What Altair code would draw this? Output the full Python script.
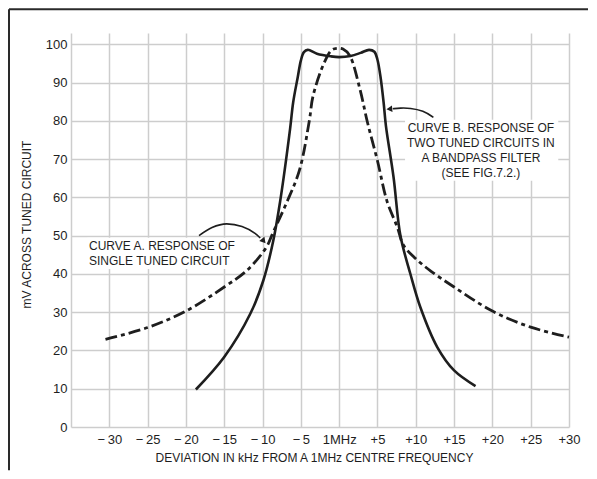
import altair as alt
import pandas as pd

# ---- data ----
# Curve A: single tuned circuit (dash-dot)
a_x = [-30.5, -25, -20, -15, -12, -9.5, -8.6, -7, -5.2, -3.9, -3.4, -2, -1, -0.3,
       0.5, 1.4, 2.7, 3.7, 5, 6.25, 7.6, 8.4, 10, 12, 15, 20, 25, 30]
a_y = [22.9, 26, 30.3, 36.6, 41, 47, 51, 58, 67, 80, 86.6, 95, 98.5, 99,
       98.8, 97, 88.4, 79.6, 69.6, 59, 52.2, 47.5, 44, 40.7, 36.6, 30.3, 26.1, 23.5]

# Curve B: two tuned circuits in a bandpass filter (solid)
b_x = [-18.7, -15, -11.6, -9.9, -8.6, -7.7, -6.4, -6, -5.4, -5.0, -4.6, -4.1, -2.9, -1.1, 0,
       1.5, 2.8, 3.9, 4.6, 5.0, 5.4, 5.8, 6.1, 7.1, 8, 9.3, 10.6, 12.8, 15, 17.8]
b_y = [9.8, 18.3, 29.6, 38.3, 48.7, 59, 78, 84.9, 91.5, 95.8, 98.0, 98.6, 97.6, 96.9, 96.7,
       97.0, 97.8, 98.6, 98.1, 96.0, 91.5, 84.9, 78.8, 65.3, 50, 40, 31.3, 20.9, 14.8, 10.7]

x_ticks = [-35, -30, -25, -20, -15, -10, -5, 0, 5, 10, 15, 20, 25, 30]
y_ticks = [0, 10, 20, 30, 40, 50, 60, 70, 80, 90, 100]

x_title = "DEVIATION IN kHz FROM A 1MHz CENTRE FREQUENCY"
y_title = "mV ACROSS TUNED CIRCUIT"

# annotations
text_a = ["CURVE A. RESPONSE OF", "SINGLE TUNED CIRCUIT"]
text_a_x = [-32.65, -32.65]
text_a_y = [47.3, 43.5]

text_b = ["CURVE B. RESPONSE OF", "TWO TUNED CIRCUITS IN", "A BANDPASS FILTER", "(SEE FIG.7.2.)"]
text_b_x = [18.5, 18.5, 18.5, 18.5]
text_b_y = [78.2, 74.3, 70.4, 66.5]

# white boxes behind annotation text
box_x1 = [-32.9, 8.6]
box_x2 = [-12.9, 28.6]
box_y1 = [41.3, 64.4]
box_y2 = [49.5, 80.3]

# arrow arcs
arrow_a_x = [-18.29, -16.59, -14.67, -12.68, -10.98, -10.3]
arrow_a_y = [50.05, 52.14, 53.1, 52.4, 50.6, 49.4]
arrow_b_x = [12.3, 10.99, 9.26, 7.95, 7.0]
arrow_b_y = [80.94, 82.69, 83.39, 83.39, 83.2]
head_x = [-9.85, 6.55]
head_y = [48.6, 83.13]
head_angle = [140, 265]

# ---- chart ----
INK = "#1e1e1e"
FONT = "Liberation Sans"

xscale = alt.Scale(domain=[-35, 30], nice=False, zero=False)
yscale = alt.Scale(domain=[0, 103], nice=False, zero=False)

label_expr = ("datum.value == -35 ? '' : datum.value == 0 ? '1MHz' : "
              "datum.value > 0 ? '+' + datum.value : '\u2212\u2009' + abs(datum.value)")

x_axis = alt.Axis(values=x_ticks, labelExpr=label_expr, title=x_title,
                  grid=True, ticks=False, domain=False, labelPadding=6,
                  titlePadding=6, labelFlush=False, labelOverlap=False,
                  titleX=243, titleAlign="center")
y_axis = alt.Axis(values=y_ticks, title=y_title, grid=True, ticks=False,
                  domain=False, labelPadding=4, titlePadding=12,
                  titleY=191, titleAlign="center")

def X(field="x"):
    return alt.X(f"{field}:Q", scale=xscale, axis=x_axis)

def Y(field="y"):
    return alt.Y(f"{field}:Q", scale=yscale, axis=y_axis)

df_a = pd.DataFrame({"x": a_x, "y": a_y})
df_b = pd.DataFrame({"x": b_x, "y": b_y})

curve_b = alt.Chart(df_b).mark_line(color=INK, strokeWidth=2.6, interpolate="catmull-rom").encode(
    x=X(), y=Y())
curve_a = alt.Chart(df_a).mark_line(color=INK, strokeWidth=2.8, interpolate="catmull-rom",
                                    strokeDash=[12, 4, 4, 4]).encode(x=X(), y=Y())

boxes = alt.Chart(pd.DataFrame({"x": box_x1, "x2": box_x2, "y": box_y1, "y2": box_y2})).mark_rect(
    color="white").encode(x=X(), x2="x2:Q", y=Y(), y2="y2:Q")

ta = alt.Chart(pd.DataFrame({"x": text_a_x, "y": text_a_y, "t": text_a})).mark_text(
    align="left", baseline="middle", font=FONT, fontSize=12, color=INK).encode(
    x=X(), y=Y(), text="t:N")
tb = alt.Chart(pd.DataFrame({"x": text_b_x, "y": text_b_y, "t": text_b})).mark_text(
    align="center", baseline="middle", font=FONT, fontSize=12, color=INK).encode(
    x=X(), y=Y(), text="t:N")

arr_a = alt.Chart(pd.DataFrame({"x": arrow_a_x, "y": arrow_a_y})).mark_line(
    color=INK, strokeWidth=1.6, interpolate="monotone").encode(x=X(), y=Y())
arr_b = alt.Chart(pd.DataFrame({"x": arrow_b_x, "y": arrow_b_y})).mark_line(
    color=INK, strokeWidth=1.6, interpolate="basis").encode(x=X(), y=Y(), order=alt.Order("o:Q")) \
    .transform_window(o="row_number()")
heads = alt.Chart(pd.DataFrame({"x": head_x, "y": head_y, "a": head_angle})).mark_point(
    shape="triangle-up", filled=True, color=INK, size=45, opacity=1).encode(
    x=X(), y=Y(), angle=alt.Angle("a:Q", scale=None))

# outer frame (top and left edges of the figure box)
frame_top = alt.Chart(pd.DataFrame({"k": [0]})).mark_rule(color="#2a2a2a", strokeWidth=2).encode(
    x=alt.value(-62), x2=alt.value(517), y=alt.value(-23.7))
frame_left = alt.Chart(pd.DataFrame({"k": [0]})).mark_rule(color="#2a2a2a", strokeWidth=2).encode(
    x=alt.value(-62), y=alt.value(-23.7), y2=alt.value(437.3))

chart = alt.layer(
    curve_b, curve_a, boxes, ta, tb, arr_a, arr_b, heads, frame_top, frame_left
).properties(
    width=498, height=394, padding=0, background="white"
).configure_view(stroke=None).configure_axis(
    gridColor="#cdcdcd", gridWidth=1.5, labelFont=FONT, titleFont=FONT,
    labelFontSize=13, titleFontSize=12, labelColor=INK, titleColor=INK,
    titleFontWeight="normal"
)

chart.save("out.html", embed_options={"renderer": "svg", "actions": False})
